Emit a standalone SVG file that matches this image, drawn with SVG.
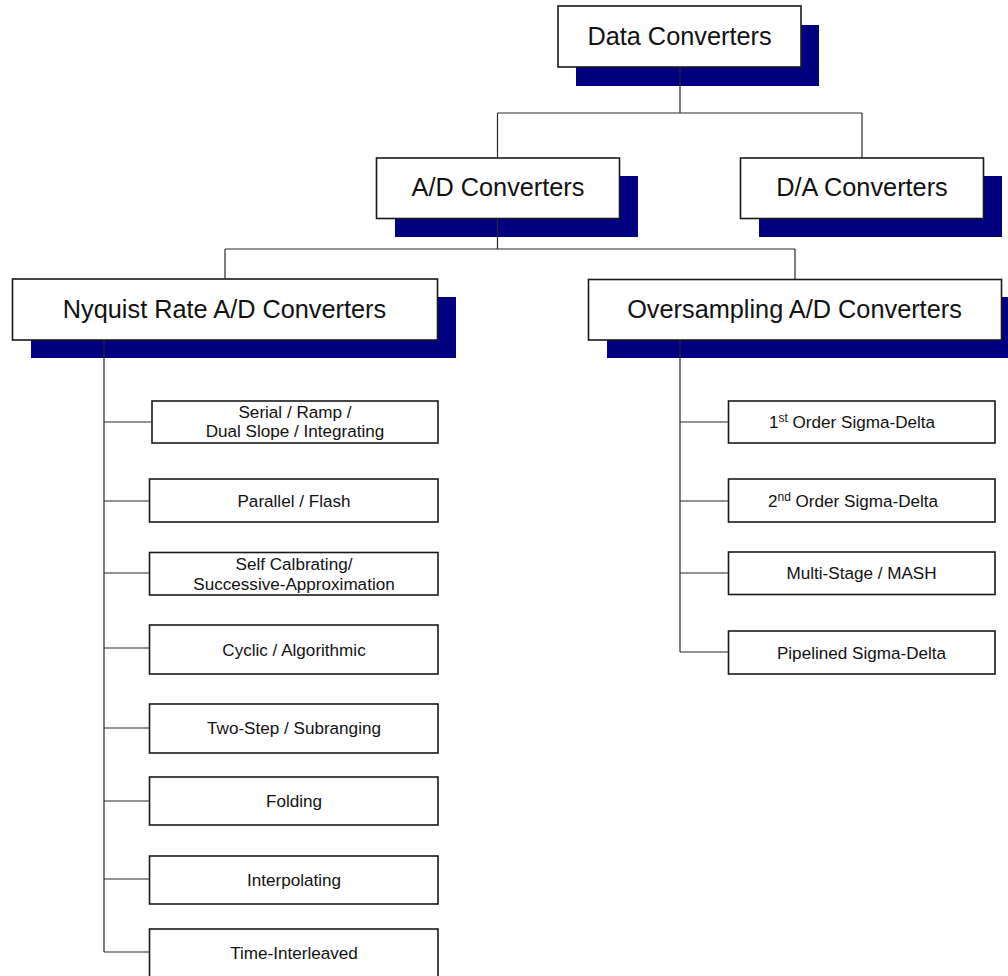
<svg xmlns="http://www.w3.org/2000/svg" width="1008" height="976" viewBox="0 0 1008 976">
  <style>
    .shadow { fill: #000080; }
    .box { fill: #ffffff; stroke: #1a1a1a; stroke-width: 1.6; }
    .big { font-family: "Liberation Sans", Arial, sans-serif; font-size: 25.3px; fill: #111; text-anchor: middle; }
    .small { font-family: "Liberation Sans", Arial, sans-serif; font-size: 17.1px; fill: #111; text-anchor: middle; }
    .sup { font-size: 12px; }
    .wire { fill: none; stroke: #2a2a2a; stroke-width: 1.2; }
  </style>

  <!-- Top level -->
  <g id="data-converters">
    <rect class="shadow" x="576" y="25" width="243" height="61"/>
    <rect class="box" x="558" y="6" width="243" height="61"/>
    <text class="big" x="679.5" y="44.5">Data Converters</text>
  </g>

  <!-- Second level -->
  <g id="ad-converters">
    <rect class="shadow" x="395" y="176" width="243" height="61"/>
    <rect class="box" x="376.5" y="158" width="243" height="60.5"/>
    <text class="big" x="498" y="196">A/D Converters</text>
  </g>
  <g id="da-converters">
    <rect class="shadow" x="759" y="176" width="243" height="61"/>
    <rect class="box" x="740.5" y="158" width="243" height="60.5"/>
    <text class="big" x="862" y="196">D/A Converters</text>
  </g>

  <!-- Third level -->
  <g id="nyquist">
    <rect class="shadow" x="31" y="297" width="425" height="61"/>
    <rect class="box" x="12.5" y="279" width="425" height="61"/>
    <text class="big" x="224.5" y="318">Nyquist Rate A/D Converters</text>
  </g>
  <g id="oversampling">
    <rect class="shadow" x="607" y="297" width="413" height="61"/>
    <rect class="box" x="588.5" y="279.5" width="413" height="60.5"/>
    <text class="big" x="794.5" y="318">Oversampling A/D Converters</text>
  </g>

  <!-- Nyquist rate architectures -->
  <g id="serial-ramp">
    <rect class="box" x="152" y="401" width="286" height="42"/>
    <text class="small" x="295" y="418">Serial / Ramp /</text>
    <text class="small" x="295" y="437">Dual Slope / Integrating</text>
  </g>
  <g id="parallel-flash">
    <rect class="box" x="149.5" y="479" width="288.5" height="43"/>
    <text class="small" x="294" y="506.5">Parallel / Flash</text>
  </g>
  <g id="self-calibrating">
    <rect class="box" x="149.5" y="552.5" width="288.5" height="42.5"/>
    <text class="small" x="294" y="569.5">Self Calbrating/</text>
    <text class="small" x="294" y="589.5">Successive-Approximation</text>
  </g>
  <g id="cyclic">
    <rect class="box" x="149.5" y="625" width="288.5" height="49"/>
    <text class="small" x="294" y="655.5">Cyclic / Algorithmic</text>
  </g>
  <g id="two-step">
    <rect class="box" x="149.5" y="704" width="288.5" height="49"/>
    <text class="small" x="294" y="734">Two-Step / Subranging</text>
  </g>
  <g id="folding">
    <rect class="box" x="149.5" y="777" width="288.5" height="48"/>
    <text class="small" x="294" y="807">Folding</text>
  </g>
  <g id="interpolating">
    <rect class="box" x="149.5" y="856" width="288.5" height="48"/>
    <text class="small" x="294" y="886">Interpolating</text>
  </g>
  <g id="time-interleaved">
    <rect class="box" x="149.5" y="929" width="288.5" height="50"/>
    <text class="small" x="294" y="958.5">Time-Interleaved</text>
  </g>

  <!-- Oversampling architectures -->
  <g id="first-order">
    <rect class="box" x="728.5" y="401" width="266.5" height="42"/>
    <text class="small" x="852" y="427.5">1<tspan class="sup" dy="-6">st</tspan><tspan dy="6"> Order Sigma-Delta</tspan></text>
  </g>
  <g id="second-order">
    <rect class="box" x="728.5" y="479" width="266.5" height="43"/>
    <text class="small" x="853" y="506.5">2<tspan class="sup" dy="-6">nd</tspan><tspan dy="6"> Order Sigma-Delta</tspan></text>
  </g>
  <g id="multi-stage">
    <rect class="box" x="728.5" y="552" width="266.5" height="42.5"/>
    <text class="small" x="861.5" y="579">Multi-Stage / MASH</text>
  </g>
  <g id="pipelined">
    <rect class="box" x="728.5" y="631" width="266.5" height="43"/>
    <text class="small" x="861.5" y="658.5">Pipelined Sigma-Delta</text>
  </g>

  <!-- Tree connectors -->
  <g id="connectors" class="wire">
    <path d="M680 67 V113 M497.5 113 H862 M497.5 113 V158 M862 113 V158"/>
    <path d="M497.5 218.5 V249 M225 249 H795 M225 249 V279 M795 249 V279"/>
    <path d="M104 340 V952 M104 422 H152 M104 501 H149.5 M104 573 H149.5 M104 648 H149.5 M104 728 H149.5 M104 801 H149.5 M104 879 H149.5 M104 952 H149.5"/>
    <path d="M680 340 V652 M680 422 H728.5 M680 501 H728.5 M680 573 H728.5 M680 652 H728.5"/>
  </g>
</svg>
